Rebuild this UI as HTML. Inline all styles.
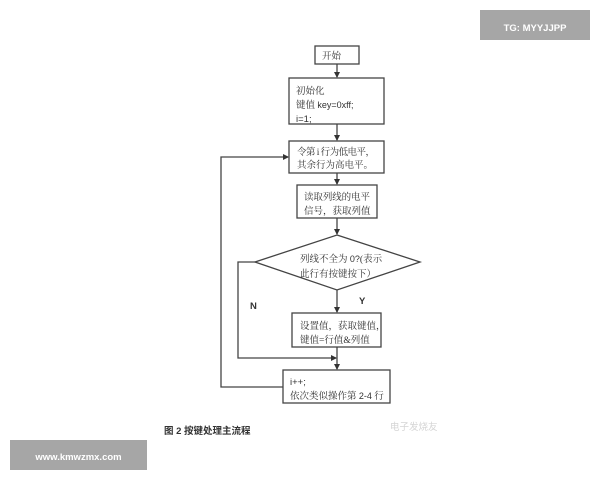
<!DOCTYPE html>
<html><head><meta charset="utf-8"><style>
html,body{margin:0;padding:0;background:#fff;width:600px;height:480px;overflow:hidden}
svg{display:block}
text{font-family:"Liberation Serif","Noto Serif CJK SC",serif;fill:#333;font-size:9.5px}
.s{font-family:"Liberation Sans","Noto Sans CJK SC",sans-serif}
</style></head><body>
<svg width="600" height="480" viewBox="0 0 600 480" xmlns="http://www.w3.org/2000/svg">
<defs><marker id="a" markerWidth="6" markerHeight="6" refX="5" refY="3" orient="auto" markerUnits="userSpaceOnUse"><path d="M0,0 L6,3 L0,6 z" fill="#333"/></marker></defs>
<g fill="none" stroke="#444" stroke-width="1.3">
<rect x="315" y="46" width="44" height="18"/>
<rect x="289" y="78" width="95" height="46"/>
<rect x="289" y="141" width="95" height="32"/>
<rect x="297" y="185" width="80" height="33"/>
<polygon points="337,235 420,262 337,290 255,262"/>
<rect x="292" y="313" width="89" height="34"/>
<rect x="283" y="370" width="107" height="33"/>
<line x1="337" y1="64" x2="337" y2="77" marker-end="url(#a)"/>
<line x1="337" y1="124" x2="337" y2="140" marker-end="url(#a)"/>
<line x1="337" y1="173" x2="337" y2="184" marker-end="url(#a)"/>
<line x1="337" y1="218" x2="337" y2="234" marker-end="url(#a)"/>
<line x1="337" y1="290" x2="337" y2="312" marker-end="url(#a)"/>
<line x1="337" y1="347" x2="337" y2="369" marker-end="url(#a)"/>
<polyline points="255,262 238,262 238,358 336,358" marker-end="url(#a)"/>
<polyline points="283,387 221,387 221,157 288,157" marker-end="url(#a)"/>
</g>
<text x="322" y="59">开始</text>
<text x="296" y="94">初始化</text>
<text x="296" y="108">键值 <tspan class="s" font-size="9">key=0xff;</tspan></text>
<text x="296" y="122" class="s" font-size="9">i=1;</text>
<text x="297" y="155" textLength="78">令第 i 行为低电平，</text>
<text x="297" y="168">其余行为高电平。</text>
<text x="304" y="200" textLength="66">读取列线的电平</text>
<text x="304" y="214">信号，获取列值</text>
<text x="300" y="262">列线不全为 <tspan class="s" font-size="9">0?</tspan>(表示</text>
<text x="300" y="277">此行有按键按下）</text>
<text x="300" y="329">设置值，获取键值，</text>
<text x="300" y="343">键值=行值&amp;列值</text>
<text x="290" y="385" class="s" font-size="9">i++;</text>
<text x="290" y="399">依次类似操作第 <tspan class="s" font-size="9">2-4</tspan> 行</text>
<text x="359" y="304" class="s" font-size="8.5" font-weight="bold">Y</text>
<text x="250" y="309" class="s" font-size="8.5" font-weight="bold">N</text>
<text x="164" y="434" class="s" font-size="8.5" font-weight="bold">图 2 按键处理主流程</text>
<text x="390" y="430" class="s" font-size="9" style="fill:#d4d4d4">电子发烧友</text>
<rect x="480" y="10" width="110" height="30" fill="#a6a6a6"/>
<text x="535" y="31" class="s" font-size="14" font-weight="bold" text-anchor="middle" style="fill:#fff">TG: MYYJJPP</text>
<rect x="10" y="440" width="137" height="30" fill="#a6a6a6"/>
<text x="78.5" y="460" class="s" font-size="13.5" font-weight="bold" text-anchor="middle" style="fill:#fff">www.kmwzmx.com</text>
</svg>
</body></html>
